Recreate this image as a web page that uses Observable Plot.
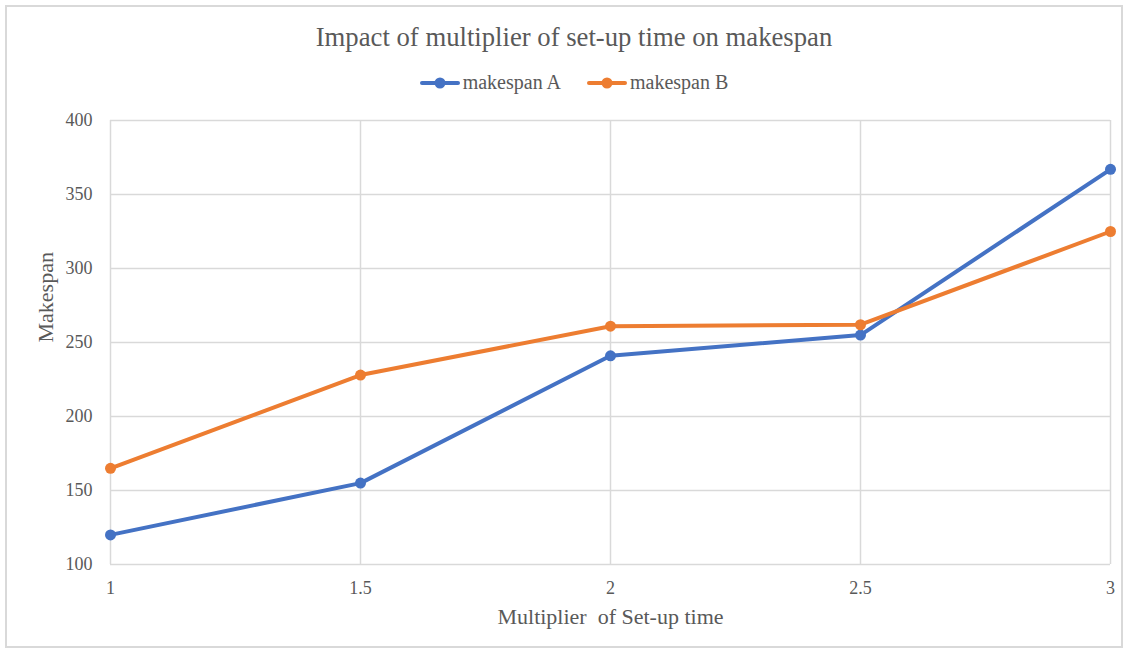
<!DOCTYPE html>
<html>
<head>
<meta charset="utf-8">
<script src="https://cdn.jsdelivr.net/npm/d3@7"></script>
<script src="https://cdn.jsdelivr.net/npm/@observablehq/plot@0.6"></script>
<style>
  html, body { margin: 0; padding: 0; background: #fff; }
  #chart { position: relative; width: 1132px; height: 654px; font-family: "Liberation Serif", "Times New Roman", serif; color: #595959; }
  #frame { position: absolute; left: 5px; top: 5px; width: 1118px; height: 643px; border: 2px solid #d9d9d9; box-sizing: border-box; }
  #title { position: absolute; left: 8px; top: 22px; width: 1132px; text-align: center; font-size: 26.7px; }
  #legend { position: absolute; left: 8px; top: 71px; width: 1132px; display: flex; justify-content: center; gap: 26px; font-size: 20px; }
  .item { display: flex; align-items: center; gap: 3px; }
  #plot { position: absolute; left: 0; top: 0; }
  #plot text { white-space: pre; }
</style>
</head>
<body>
<div id="chart">
  <div id="frame"></div>
  <div id="plot"></div>
  <div id="title"></div>
  <div id="legend"></div>
</div>
<script>
const multipliers = [1, 1.5, 2, 2.5, 3];
const makespanA = [120, 155, 241, 255, 367];
const makespanB = [165, 228, 261, 262, 325];
const seriesNames = ["makespan A", "makespan B"];
const seriesColors = ["#4472C4", "#ED7D31"];
const yTicks = [100, 150, 200, 250, 300, 350, 400];
const titleText = "Impact of multiplier of set-up time on makespan";
const xLabel = "Multiplier  of Set-up time";
const yLabel = "Makespan";

const data = [];
multipliers.forEach((m, i) => {
  data.push({x: m, y: makespanA[i], s: seriesNames[0]});
  data.push({x: m, y: makespanB[i], s: seriesNames[1]});
});

const plot = Plot.plot({
  width: 1132,
  height: 654,
  marginLeft: 110,
  marginRight: 22,
  marginTop: 120,
  marginBottom: 90,
  style: {fontFamily: '"Liberation Serif", "Times New Roman", serif', fontSize: "18px", color: "#595959", background: "transparent"},
  x: {domain: [1, 3]},
  y: {domain: [100, 400]},
  color: {domain: seriesNames, range: seriesColors},
  marks: [
    Plot.gridY(yTicks, {stroke: "#d9d9d9", strokeOpacity: 1, strokeWidth: 1.5}),
    Plot.gridX(multipliers, {stroke: "#d9d9d9", strokeOpacity: 1, strokeWidth: 1.5}),
    Plot.axisY(yTicks, {tickSize: 0, tickPadding: 18, label: null, fontSize: 18, fill: "#595959"}),
    Plot.axisX(multipliers, {tickSize: 0, tickPadding: 17, label: null, fontSize: 18, fill: "#595959", tickFormat: d => String(d)}),
    Plot.line(data, {x: "x", y: "y", z: "s", stroke: "s", strokeWidth: 4, strokeLinejoin: "round", strokeLinecap: "round"}),
    Plot.dot(data, {x: "x", y: "y", fill: "s", r: 5.5}),
    Plot.text([xLabel], {frameAnchor: "bottom", dy: 59, fontSize: 22, fill: "#595959"}),
    Plot.text([yLabel], {frameAnchor: "left", dx: -65, rotate: -90, fontSize: 22, fill: "#595959"})
  ]
});
document.getElementById("plot").appendChild(plot);

document.getElementById("title").textContent = titleText;

const legend = document.getElementById("legend");
seriesNames.forEach((name, i) => {
  const item = document.createElement("div");
  item.className = "item";
  const ns = "http://www.w3.org/2000/svg";
  const sw = document.createElementNS(ns, "svg");
  sw.setAttribute("width", 40);
  sw.setAttribute("height", 14);
  const ln = document.createElementNS(ns, "line");
  ln.setAttribute("x1", 2); ln.setAttribute("x2", 38);
  ln.setAttribute("y1", 7); ln.setAttribute("y2", 7);
  ln.setAttribute("stroke", seriesColors[i]);
  ln.setAttribute("stroke-width", 4);
  ln.setAttribute("stroke-linecap", "round");
  const c = document.createElementNS(ns, "circle");
  c.setAttribute("cx", 20); c.setAttribute("cy", 7); c.setAttribute("r", 5.5);
  c.setAttribute("fill", seriesColors[i]);
  sw.appendChild(ln); sw.appendChild(c);
  const label = document.createElement("span");
  label.textContent = name;
  item.appendChild(sw); item.appendChild(label);
  legend.appendChild(item);
});
</script>
</body>
</html>
